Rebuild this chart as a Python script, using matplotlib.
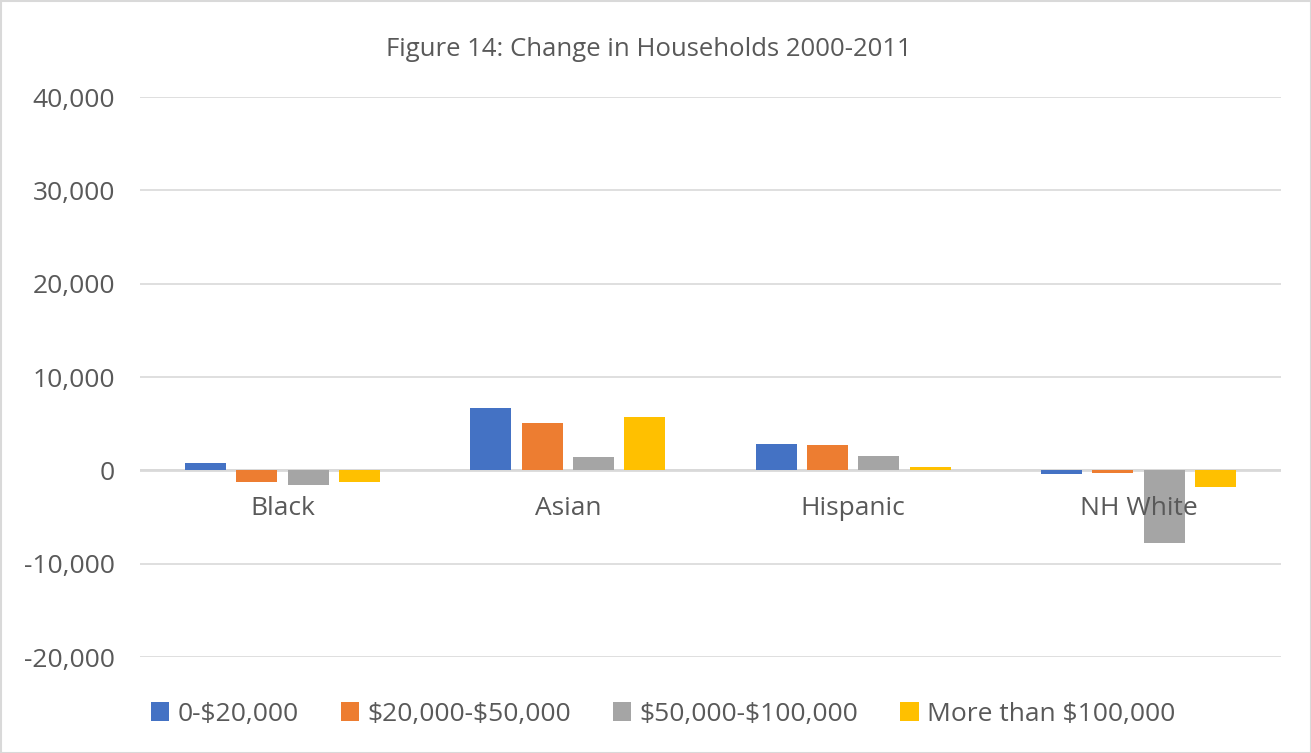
import matplotlib
matplotlib.use("Agg")
import matplotlib.pyplot as plt
from matplotlib.patches import Rectangle
from matplotlib.ticker import FuncFormatter
import numpy as np

plt.rcParams['font.family'] = ['Open Sans', 'DejaVu Sans']
plt.rcParams['text.parse_math'] = False

categories = ["Black", "Asian", "Hispanic", "NH White"]
series_names = ["0-$20,000", "$20,000-$50,000", "$50,000-$100,000", "More than $100,000"]
under_20k = [780, 6680, 2860, -400]
from_20k_to_50k = [-1250, 5040, 2750, -250]
from_50k_to_100k = [-1540, 1470, 1540, -7790]
over_100k = [-1250, 5720, 320, -1820]
series_values = [under_20k, from_20k_to_50k, from_50k_to_100k, over_100k]
colors = ["#4472C4", "#ED7D31", "#A5A5A5", "#FFC000"]
y_ticks = [-20000, -10000, 0, 10000, 20000, 30000, 40000]

text_color = "#595959"
grid_color = "#D9D9D9"

fig = plt.figure(figsize=(13.11, 7.53), dpi=100)
ax = fig.add_axes([140 / 1311, 1 - 657 / 753, (1281 - 140) / 1311, (657 - 97) / 753])

x = np.arange(len(categories))
bar_w = 0.144
step = 0.18
for i, (name, vals, c) in enumerate(zip(series_names, series_values, colors)):
    offs = (i - 1.5) * step
    ax.bar(x + offs, vals, width=bar_w, color=c, label=name, zorder=2)

ax.set_xlim(-0.5, len(categories) - 0.5)
ax.set_ylim(min(y_ticks), max(y_ticks))
ax.set_yticks(y_ticks)
ax.yaxis.set_major_formatter(FuncFormatter(lambda v, p: f"{int(v):,}"))
ax.tick_params(axis='y', length=0, pad=18, labelsize=19, labelcolor=text_color)
ax.set_xticks([])
ax.grid(axis='y', color=grid_color, linewidth=1.2, zorder=0)
ax.axhline(0, color=grid_color, linewidth=2, zorder=1)
for s in ax.spines.values():
    s.set_visible(False)

for xi, cat in zip(x, categories):
    ax.annotate(cat, xy=(xi, 0), xytext=(0, -27.5), textcoords='offset points',
                ha='center', va='center', fontsize=19, color=text_color, zorder=5)

fig.text(649 / 1311, 1 - 50 / 753, "Figure 14: Change in Households 2000-2011",
         ha='center', va='center', fontsize=18.5, color=text_color)

leg = fig.legend(loc='center', bbox_to_anchor=(663 / 1311, 1 - 714 / 753), ncol=4, frameon=False,
                 fontsize=19, handlelength=0.7, handleheight=0.7, handletextpad=0.3,
                 columnspacing=1.6)
for t in leg.get_texts():
    t.set_color(text_color)

fig.patches.append(Rectangle((0.5 / 1311, 0.5 / 753), 1 - 1 / 1311, 1 - 1 / 753,
                             transform=fig.transFigure, fill=False,
                             edgecolor=grid_color, linewidth=1.5))

fig.savefig("out.png", dpi=100)
